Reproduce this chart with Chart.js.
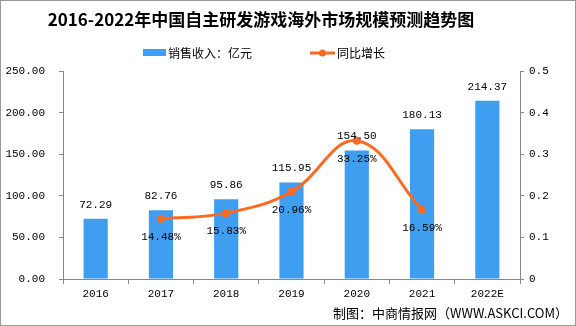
<!DOCTYPE html>
<html><head><meta charset="utf-8">
<script src="https://cdn.jsdelivr.net/npm/chart.js@4/dist/chart.umd.min.js"></script>
<style>html,body{margin:0;padding:0;background:#fff}#wrap{width:576px;height:326px;position:relative}</style>
</head><body><div id="wrap"><canvas id="c" width="576" height="326"></canvas></div>
<script>
const categories = ['2016','2017','2018','2019','2020','2021','2022E'];
const revenue = [72.29, 82.76, 95.86, 115.95, 154.50, 180.13, 214.37];
const growth = [null, 0.1448, 0.1583, 0.2096, 0.3325, 0.1659, null];
const leftTicks = [0, 50, 100, 150, 200, 250];
const rightTicks = [0, 0.1, 0.2, 0.3, 0.4, 0.5];
const title = '2016-2022年中国自主研发游戏海外市场规模预测趋势图';
const legendBar = '销售收入：亿元';
const legendLine = '同比增长';
const source = '制图：中商情报网（WWW.ASKCI.COM）';

const BLUE = '#3f9ef0', ORANGE = '#fe6a22', AXIS = '#888888';
const MONO = '"Liberation Mono", "DejaVu Sans Mono", monospace';
const CJK = '"Noto Sans CJK SC", sans-serif';

const textPlugin = {
  id: 'texts',
  afterDatasetsDraw(chart) {
    const ctx = chart.ctx;
    ctx.save();
    ctx.fillStyle = '#000';
    ctx.font = '11px ' + MONO;
    ctx.textAlign = 'center';
    ctx.textBaseline = 'middle';
    const barMeta = chart.getDatasetMeta(0);
    barMeta.data.forEach((el, i) => {
      ctx.fillText(revenue[i].toFixed(2), el.x, el.y - 14);
    });
    const lineMeta = chart.getDatasetMeta(1);
    lineMeta.data.forEach((el, i) => {
      if (growth[i] == null) return;
      ctx.fillText((growth[i] * 100).toFixed(2) + '%', el.x, el.y + 18);
    });
    ctx.restore();
  },
  afterDraw(chart) {
    const ctx = chart.ctx;
    ctx.save();
    // title
    ctx.fillStyle = '#000';
    ctx.textAlign = 'center';
    ctx.textBaseline = 'middle';
    ctx.font = 'bold 17px ' + CJK;
    ctx.fillText(title, 261, 20);
    // legend
    ctx.fillStyle = BLUE;
    ctx.fillRect(143, 49, 23, 7);
    ctx.fillStyle = '#000';
    ctx.textAlign = 'left';
    ctx.font = '12px ' + CJK;
    ctx.fillText(legendBar, 168, 53);
    ctx.strokeStyle = ORANGE;
    ctx.lineWidth = 3;
    ctx.beginPath(); ctx.moveTo(310, 53); ctx.lineTo(335, 53); ctx.stroke();
    ctx.fillStyle = ORANGE;
    ctx.beginPath(); ctx.arc(322.5, 53, 3.5, 0, Math.PI * 2); ctx.fill();
    ctx.fillStyle = '#000';
    ctx.fillText(legendLine, 337, 53);
    // source
    ctx.textAlign = 'right';
    ctx.font = '13px ' + CJK;
    ctx.fillText(source, 568, 313);
    // frame
    ctx.strokeStyle = '#999';
    ctx.lineWidth = 1;
    ctx.strokeRect(0.5, 0.5, 575, 325);
    ctx.restore();
  }
};

new Chart(document.getElementById('c'), {
  data: {
    labels: categories,
    datasets: [
      { type: 'bar', label: legendBar, data: revenue, yAxisID: 'y', backgroundColor: BLUE,
        categoryPercentage: 1, barPercentage: 0.37, order: 2 },
      { type: 'line', label: legendLine, data: growth, yAxisID: 'y1', borderColor: ORANGE,
        backgroundColor: ORANGE, borderWidth: 3, tension: 0.4, pointRadius: 4, pointHoverRadius: 4,
        pointBackgroundColor: ORANGE, pointBorderWidth: 0, spanGaps: false, order: 1 }
    ]
  },
  options: {
    responsive: false, animation: false,
    layout: { padding: { top: 71, left: 0, right: 0, bottom: 0 } },
    plugins: { legend: { display: false }, title: { display: false }, tooltip: { enabled: false } },
    scales: {
      x: {
        offset: true,
        grid: { offset: true, drawOnChartArea: false, drawTicks: true, tickLength: 5, color: AXIS },
        border: { color: AXIS },
        ticks: { color: '#000', font: { family: MONO, size: 11 }, padding: 3, maxRotation: 0 },
        afterFit(s) { s.height = 47; }
      },
      y: {
        position: 'left', min: 0, max: 250,
        afterBuildTicks(s) { s.ticks = leftTicks.map(v => ({ value: v })); },
        grid: { drawOnChartArea: false, drawTicks: true, tickLength: 4, color: AXIS },
        border: { color: AXIS },
        ticks: { color: '#000', font: { family: MONO, size: 11 }, padding: 14,
          callback: v => Number(v).toFixed(2) },
        afterFit(s) { s.width = 63; }
      },
      y1: {
        position: 'right', min: 0, max: 0.5,
        afterBuildTicks(s) { s.ticks = rightTicks.map(v => ({ value: v })); },
        grid: { drawOnChartArea: false, drawTicks: true, tickLength: 4, color: AXIS },
        border: { color: AXIS },
        ticks: { color: '#000', font: { family: MONO, size: 11 }, padding: 5,
          callback: v => String(Math.round(v * 10) / 10) },
        afterFit(s) { s.width = 56; }
      }
    }
  },
  plugins: [textPlugin]
});
</script></body></html>
